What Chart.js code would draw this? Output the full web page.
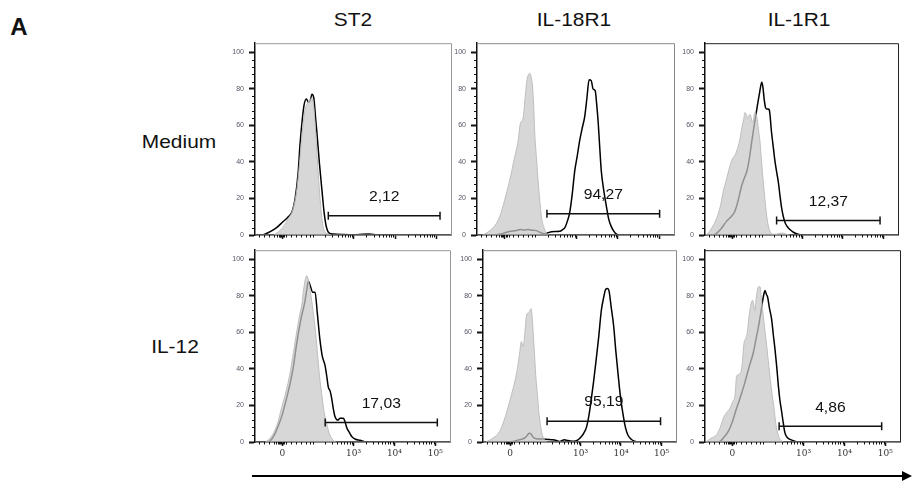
<!DOCTYPE html>
<html>
<head>
<meta charset="utf-8">
<script src="https://cdn.jsdelivr.net/npm/chart.js@4.4.0/dist/chart.umd.min.js"></script>
<style>
  body { margin: 0; background: #fff; width: 912px; height: 484px; position: relative; overflow: hidden;
         font-family: "Liberation Sans", Arial, sans-serif; }
  .box { position: absolute; }
  .lbl { position: absolute; transform: translate(-50%, -50%) scaleX(1.1); font-size: 19px; color: #111; white-space: nowrap; }
  .axisline { position: absolute; left: 252px; top: 475px; width: 652px; height: 2px; background: #000; }
  .head { position: absolute; left: 902px; top: 471px; width: 0; height: 0;
          border-left: 10px solid #000; border-top: 5px solid transparent; border-bottom: 5px solid transparent; }
</style>
</head>
<body>
<div class="lbl" style="left:19px;top:27px;font-weight:bold;font-size:24px;transform:translate(-50%,-50%)">A</div>
<div class="lbl" style="left:353px;top:20px">ST2</div>
<div class="lbl" style="left:574px;top:20px">IL-18R1</div>
<div class="lbl" style="left:799px;top:20px">IL-1R1</div>
<div class="lbl" style="left:179px;top:142px">Medium</div>
<div class="lbl" style="left:175px;top:347px">IL-12</div>
<div class="axisline"></div>
<div class="head"></div>

<script>
// axis ticks (x in display channels 0-100 of the biexponential axis)
const yTicks = [0, 20, 40, 60, 80, 100];
const xTickPos = [14, 50.5, 71.5, 92.5];
const xTickText = ['0', '10³', '10⁴', '10⁵'];

// histograms: [channel, % of max]
// ST2, medium
const st2MedIso = [[0,0],[9,0],[11,1],[14,4],[17,9],[19.3,14],[21.2,24],[22.6,38],[24,55],[25.4,68],[26.7,72],[28,74],[29,75],[29.8,72],[30.6,62],[31.5,46],[32.5,30],[33.5,16],[34.5,6],[35.5,2],[37.5,0.5],[39,0],[100,0]];
const st2MedStain = [[0,0],[3,0],[5,0.5],[8,2],[11,4],[14,7],[17,10],[19,13],[20.5,20],[22,34],[23,50],[24,62],[25,71],[26.2,74.5],[27.4,72.5],[28.3,74],[29,77],[30,75],[31,63],[31.6,56],[32.8,40],[34.2,24],[35.3,12],[36.4,4.5],[37.9,1],[40,0.5],[45,0.3],[52,0.2],[58,0.5],[62,0.2],[66,0],[100,0]];
// IL-18R1, medium
const il18MedIso = [[0,0],[2,0],[3.4,0.3],[6,2],[9,5],[11.5,10],[14,19],[16.6,30],[19,42],[20.8,51],[22,61],[23.4,64],[24.5,76],[25.4,85],[26.8,88.5],[27.6,86],[28.2,81],[28.8,70],[29.3,56],[30.2,42],[31,30],[31.8,20],[32.7,10],[34,4],[35.2,1],[37,0],[100,0]];
const il18MedStain = [[0,0],[8,0],[12,0.5],[15,1.5],[18,2.2],[20,2.5],[22,3],[24,2.8],[26,3],[28,2.6],[30,2.4],[32,1.5],[34,0.7],[36,1.2],[37.8,1.8],[40,1.9],[42,2],[43.5,3],[44.6,4],[46,8],[47,12],[48.3,22],[49.6,35],[51,44],[52,51],[53.3,58],[54.7,65],[55.8,75],[56.9,85],[58,84.5],[58.9,80],[60,79],[60.8,71],[61.5,62],[62.3,48],[63.1,35],[64.4,24],[65.7,15.6],[66.8,9],[68,5],[69.5,2],[70.8,0.5],[72.5,0],[100,0]];
// IL-1R1, medium
const il1MedIso = [[0,0],[0.9,0.3],[3,3],[6,9],[8,16],[9.5,24],[11,30],[13,38],[14.3,42],[15.5,43.6],[17.3,49],[18.2,53],[19,58],[20,63],[20.7,67],[21.4,66],[22,64],[23.3,66],[24.7,61.6],[25.9,67],[26.5,66],[27.1,63],[27.8,57],[28.5,51],[29.3,40],[30.2,29],[31,20],[31.9,11],[32.8,5],[33.7,2],[35.4,0.4],[37,0.5],[39,1],[40.6,1],[42,0.5],[44,0],[100,0]];
const il1MedStain = [[0,0],[4,0],[5.2,0.3],[8,3],[11.2,7.6],[13.5,10],[15.5,13],[17.2,19],[19,27],[20.3,31],[21.6,34.6],[23,42],[24.2,51],[25.5,60],[27.1,70.6],[28.3,78],[29.4,83.6],[30,81],[30.7,74],[31.3,70],[31.9,69],[32.6,69],[33.3,68.5],[34.5,56],[35.4,48],[36.3,40],[37.2,34],[38,29],[38.8,22],[39.7,14.8],[40.6,10],[41.5,6.7],[42.7,4.5],[44,3],[45.8,1.5],[47.5,0.7],[50,0],[100,0]];
// ST2, IL-12
const st2Il12Iso = [[0,0],[5,0],[6,0.5],[9,4],[11.5,10],[13.7,19],[16,28],[18,38],[19.7,49],[21.5,61],[23,70],[24,75],[25,84],[26.5,91],[27.3,89],[28,85],[29.5,74],[30.8,63],[32,49],[33,37],[34.5,24],[35.5,16],[36.8,10],[38,5],[40,1],[42,0],[100,0]];
const st2Il12Stain = [[0,0],[6,0],[7.7,0.5],[10,4],[12,9],[14,15],[16.2,24],[18,32],[19.5,40],[21.4,54],[23.5,67],[25.6,77],[26.5,83],[27.4,88],[28.2,86],[29.6,82],[30.8,82],[32,70],[33.3,56],[34.5,47],[35.9,42],[36.8,36],[37.6,30],[38.5,28],[39.3,24],[40.2,18],[41,14],[42.5,12],[43.6,13],[45.3,13],[46.2,11],[47,8],[48.5,5],[49.6,3],[51.5,1.5],[53.8,1],[57,0],[100,0]];
// IL-18R1, IL-12
const il18Il12Iso = [[0,0],[1,0],[2,0.3],[5,2],[8.6,5.7],[11,12],[13,19],[15,27],[17.3,37],[18.8,47],[19.9,55],[20.8,52],[21.7,60],[22.5,69],[23.8,71],[25,73],[25.5,68],[26,60],[26.7,48],[27.3,37],[28.2,26],[29,15.5],[30,8],[31,3],[32.3,1],[33.6,0],[100,0]];
const il18Il12Stain = [[0,0],[14,0],[15.6,0.3],[18,1],[20,1.5],[22,2.5],[23,3.8],[24,4.8],[25,4.2],[26,2.6],[27.5,1.8],[31,1.6],[34,1.4],[36,1.2],[38,0.8],[39.5,0.3],[41,0.8],[42,1.2],[44,0.8],[47,0.4],[49,1],[51,3],[52.3,5],[53.6,8],[54.8,14],[56,22.6],[57.3,33],[58.7,45.7],[60,58],[61.3,72],[62.5,79],[63.6,83.6],[64.5,84],[65.3,82.7],[66.4,74],[67.7,63.5],[68.8,50],[70,37],[71.2,25],[72.5,15.5],[73.8,8],[75,4],[76.8,1.5],[78.6,0.4],[80,0],[100,0]];
// IL-1R1, IL-12
const il1Il12Iso = [[0,0],[0.9,0.3],[3,2],[6,4],[7.8,8],[9.4,13],[11,16],[12.8,18.5],[14.2,22],[15.4,25.6],[16.2,36],[17.4,37],[18.8,40],[20,54],[21,57],[21.7,60],[22.7,70],[23.5,75],[24.4,77.6],[25,75],[25.6,72],[26.2,78],[26.8,83],[27.5,85],[28.2,85],[28.9,79],[29.6,72],[30.4,64],[31.3,56],[32.3,46],[33.3,36],[34.3,27],[35.4,18.5],[36.2,11],[37,6],[38,2.5],[39.3,0.5],[41,0],[100,0]];
const il1Il12Stain = [[0,0],[6,0],[7.7,0.3],[10,3],[12,6],[14,11],[16.2,18.5],[18.3,25],[20.5,32.8],[22.6,41],[24.8,49],[26.1,56],[27.4,63],[28.5,70],[29.6,77.6],[30.2,81],[30.8,83],[31.4,81],[32.1,79.4],[33.1,73],[34.2,67],[35,59],[35.9,50.7],[36.8,41],[37.6,31],[38.4,23],[39.3,16.7],[40.2,10],[41,5],[42.2,2.5],[43.6,1.4],[45.7,0.5],[47.9,0],[100,0]];

// gates, panel order: ST2/IL-18R1/IL-1R1 medium, then IL-12
const gateFrom = [37.4, 35.5, 37.1, 36.0, 33.2, 38.0];
const gateTo = [94.4, 92.7, 90.7, 93.5, 92.0, 90.6];
const gateLevel = [10.5, 11.7, 7.9, 10.7, 11.4, 8.6];
const gateText = ['2,12', '94,27', '12,37', '17,03', '95,19', '4,86'];

const panels = [
  { L: 255, T: 38, W: 196, iso: st2MedIso, stain: st2MedStain, edge: '#999', labels: false },
  { L: 477, T: 38, W: 197, iso: il18MedIso, stain: il18MedStain, edge: '#888', labels: false },
  { L: 705, T: 38, W: 193, iso: il1MedIso, stain: il1MedStain, edge: '#222', labels: false },
  { L: 255, T: 245, W: 195, iso: st2Il12Iso, stain: st2Il12Stain, edge: '#999', labels: true },
  { L: 483, T: 245, W: 193, iso: il18Il12Iso, stain: il18Il12Stain, edge: '#888', labels: true },
  { L: 705, T: 245, W: 195, iso: il1Il12Iso, stain: il1Il12Stain, edge: '#222', labels: true }
];
const plotH = 197;

// minor ticks on the biexponential axis
const minorX = [2, 4.5, 7, 9.5, 11, 12, 12.5, 13, 13.5, 14.5, 15, 16, 18.5, 21, 23.5, 26, 28, 29.5];
[29.5, 50.5, 71.5].forEach(base => {
  for (let k = 2; k <= 9; k++) minorX.push(base + 21 * Math.log10(k));
});

function toXY(pts) {
  return pts.map(p => ({ x: p[0], y: p[1] }));
}

function decor(i, p) {
  return {
    id: 'decor' + i,
    afterDraw(chart) {
      const ctx = chart.ctx, a = chart.chartArea;
      const x = chart.scales.x, y = chart.scales.y;
      ctx.save();
      // frame top and right
      ctx.strokeStyle = p.edge;
      ctx.lineWidth = 1;
      ctx.beginPath();
      ctx.moveTo(a.left, a.top + 0.5);
      ctx.lineTo(a.right + 0.5, a.top + 0.5);
      ctx.lineTo(a.right + 0.5, a.bottom);
      ctx.stroke();
      // minor ticks
      ctx.strokeStyle = '#111';
      ctx.beginPath();
      for (let v = 4; v < 100; v += 4) {
        if (v % 20 === 0) continue;
        const py = Math.round(y.getPixelForValue(v)) + 0.5;
        ctx.moveTo(a.left - 3, py);
        ctx.lineTo(a.left, py);
      }
      minorX.forEach(v => {
        const px = Math.round(x.getPixelForValue(v)) + 0.5;
        ctx.moveTo(px, a.bottom);
        ctx.lineTo(px, a.bottom + 2.5);
      });
      ctx.stroke();
      // gate label
      const cx = x.getPixelForValue((gateFrom[i] + gateTo[i]) / 2);
      const cy = y.getPixelForValue(gateLevel[i] + 10.2);
      ctx.translate(cx, cy);
      ctx.scale(1.12, 1);
      ctx.fillStyle = '#111';
      ctx.font = '14px "Liberation Sans", Arial, sans-serif';
      ctx.textAlign = 'center';
      ctx.textBaseline = 'middle';
      ctx.fillText(gateText[i], 0, 0);
      ctx.restore();
    }
  };
}

function makePanel(p, i) {
  const div = document.createElement('div');
  div.className = 'box';
  div.style.left = (p.L - 40) + 'px';
  div.style.top = (p.T - 4) + 'px';
  div.style.width = (p.W + 46) + 'px';
  div.style.height = (plotH + 30) + 'px';
  const cv = document.createElement('canvas');
  div.appendChild(cv);
  document.body.appendChild(div);

  new Chart(cv, {
    type: 'line',
    data: {
      datasets: [
        {
          data: toXY([[gateFrom[i], gateLevel[i]], [gateTo[i], gateLevel[i]]]),
          borderColor: '#111', borderWidth: 1.5, tension: 0,
          pointStyle: 'line', pointRotation: 90, pointRadius: 4,
          pointBorderColor: '#111', pointBorderWidth: 1.5,
          order: 0
        },
        {
          data: toXY(p.iso),
          borderColor: 'rgba(185,185,185,0.9)', borderWidth: 1,
          backgroundColor: 'rgba(200,200,200,0.72)', fill: 'origin',
          pointRadius: 0, cubicInterpolationMode: 'monotone',
          order: 1
        },
        {
          data: toXY(p.stain),
          borderColor: '#000', borderWidth: 1.5, fill: false,
          pointRadius: 0, cubicInterpolationMode: 'monotone',
          order: 2
        }
      ]
    },
    options: {
      responsive: true,
      maintainAspectRatio: false,
      animation: false,
      layout: { padding: { top: 4, right: 6, left: 0, bottom: 0 } },
      plugins: { legend: { display: false }, tooltip: { enabled: false } },
      scales: {
        x: {
          type: 'linear', min: 0, max: 100,
          afterBuildTicks: s => { s.ticks = xTickPos.map(v => ({ value: v })); },
          afterFit: s => { s.height = 26; },
          ticks: {
            autoSkip: false, maxRotation: 0, padding: 2, color: '#333',
            font: { family: '"DejaVu Serif", "Liberation Serif", serif', size: 9 },
            callback: (v, idx) => p.labels ? xTickText[idx] : ''
          },
          grid: { drawOnChartArea: false, tickLength: 4, tickWidth: 1.5, tickColor: '#111' },
          border: { display: true, color: '#111', width: 1.5 }
        },
        y: {
          min: 0, max: 105,
          afterBuildTicks: s => { s.ticks = yTicks.map(v => ({ value: v })); },
          afterFit: s => { s.width = 40; },
          ticks: {
            autoSkip: false, padding: 5, color: '#556',
            font: { family: '"Liberation Sans", Arial, sans-serif', size: 7 }
          },
          grid: { drawOnChartArea: false, tickLength: 6, tickWidth: 2, tickColor: '#111' },
          border: { display: true, color: '#111', width: 1.5 }
        }
      }
    },
    plugins: [decor(i, p)]
  });
}

document.addEventListener('DOMContentLoaded', () => {
  panels.forEach(makePanel);
});
</script>
</body>
</html>
